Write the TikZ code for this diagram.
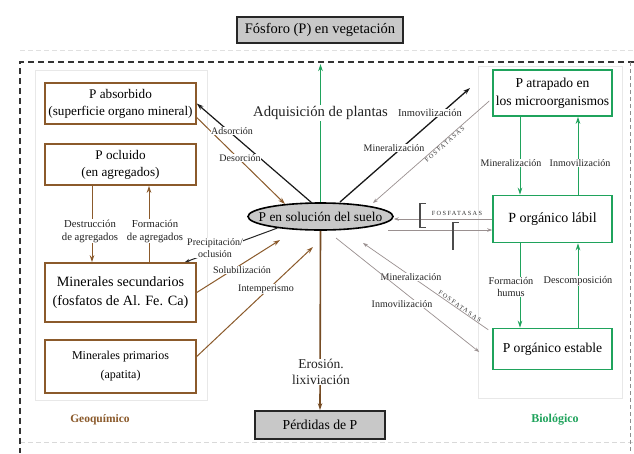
\documentclass[tikz,border=0pt]{standalone}
\usepackage{fontspec}
\setmainfont{Liberation Serif}
\usetikzlibrary{arrows.meta,shapes.geometric,calc}
\definecolor{brn}{HTML}{8B5A2B}
\definecolor{grn}{HTML}{1FA35C}
\definecolor{boxgray}{HTML}{C8C8C8}
\definecolor{thinc}{HTML}{9A9090}
\definecolor{txt}{HTML}{222222}
\newcommand\myfs[2]{\fontsize{#1}{#2}\selectfont}
\begin{document}
\begin{tikzpicture}[x=1pt,y=-1pt,
  geo/.style={draw=brn,line width=1.5pt,fill=white,align=center,minimum width=151pt,inner sep=1pt,text=black},
  bio/.style={draw=grn,line width=1.5pt,fill=white,align=center,minimum width=119pt,inner sep=1pt,text=black},
  gbox/.style={draw=black!85,line width=1.8pt,fill=boxgray,align=center,inner sep=1pt,text=black},
  lbl/.style={font=\myfs{10}{12},text=txt,fill=white,inner sep=0.6pt,align=center},
  tip/.style={-{Stealth[length=7pt,width=4.5pt]}},
  stip/.style={-{Stealth[length=5pt,width=3.5pt]}},
  fos/.style={font={\myfs{6.3}{7}\addfontfeature{LetterSpace=22}},text=black!80,inner sep=0.8pt},
  thinline/.style={draw=thinc,line width=0.7pt},
]
\useasboundingbox (0,0) rectangle (634,453);
\fill[white] (0,0) rectangle (634,453);
% faint panels and frame
\draw[black!9,line width=0.8pt] (35,70) rectangle (207,400);
\draw[black!9,line width=0.8pt] (478,66) rectangle (622,398);
\draw[black!12,line width=1pt,dash pattern=on 5pt off 3pt] (20,50) -- (634,50);
\draw[black!15,line width=1pt,dash pattern=on 5pt off 3pt] (20,442) -- (634,442);
\draw[black!80,line width=1.5pt,dash pattern=on 6pt off 4pt] (634,62) -- (20,62) -- (20,453);
\draw[black!45,line width=0.8pt,dash pattern=on 4pt off 3pt] (630,62) -- (630,453);

% boxes
\node[gbox,minimum width=166pt,minimum height=26pt,font=\myfs{14.5}{16}] (veg) at (320,30) {Fósforo (P) en vegetación};
\node[gbox,minimum width=130pt,minimum height=28pt,font=\myfs{13.7}{15}] (per) at (320,425) {Pérdidas de P};
\node[ellipse,draw=black,line width=1.6pt,fill=boxgray,minimum width=145pt,minimum height=27pt,inner sep=0pt,font=\myfs{13.4}{15}] (sol) at (320.5,216.5) {\makebox[0pt]{P en solución del suelo}};

\node[geo,minimum height=41pt,font=\myfs{13.2}{17}] (abs) at (120.5,103.5) {P absorbido\\(superficie organo mineral)};
\node[geo,minimum height=41pt,font=\myfs{13.2}{17}] (ocl) at (120.5,164.5) {P ocluido\\(en agregados)};
\node[geo,minimum height=59pt,font=\myfs{14.2}{19}] (sec) at (120.5,292.5) {Minerales secundarios\\(fosfatos de Al. Fe. Ca)};
\node[geo,minimum height=53pt,font=\myfs{12}{19}] (pri) at (120.5,366.5) {Minerales primarios\\(apatita)};

\node[bio,minimum height=46pt,font=\myfs{13.6}{18}] (atr) at (552.5,93) {P atrapado en\\los microorganismos};
\node[bio,minimum height=47pt,font=\myfs{14}{15}] (lab) at (552.5,219) {P orgánico lábil};
\node[bio,minimum height=41pt,font=\myfs{13.6}{15}] (est) at (552.5,349) {P orgánico estable};

% central vertical arrows
\coordinate (gt) at (320.5,64);
\draw[grn,line width=1.8pt,tip] (sol.north) -- (gt);
\node[font=\myfs{14.7}{16},fill=white,inner sep=1pt,text=txt] (adq) at (320.5,113) {Adquisición de plantas};
\draw[brn!85!black,line width=1.6pt,tip] (sol.south) -- (per.north);
\node[lbl,font=\myfs{13.5}{16}] (ero) at (321,372) {Erosión.\\lixiviación};

% geochemical side
\coordinate (adsS) at (312,203);
\draw[black!90,line width=1.2pt,tip] (adsS) -- (abs.east);
\coordinate (desE) at (285,204);
\draw[brn,line width=1pt,tip] ($(abs.east)+(0,14)$) -- (desE);
\node[lbl] (lads) at (232,131) {Adsorción};
\node[lbl] (ldes) at (240,158) {Desorción};

\draw[black!85,line width=1pt,stip] (sol.195) -- ($(sec.north east)+(-12,0)$);
\node[lbl] (lpre) at (215,248) {Precipitación/\\oclusión};

\coordinate (solE) at (280,240);
\draw[brn,line width=1pt,tip] (sec.east) -- (solE);
\node[lbl] (lsol) at (242,270) {Solubilización};
\coordinate (intE) at (313,247);
\draw[brn,line width=1pt,tip] ($(pri.east)+(0,-10)$) -- (intE);
\node[lbl] (lint) at (266,289) {Intemperismo};

\draw[brn,line width=1pt,tip] ($(ocl.south)+(-28.5,0)$) -- ($(sec.north)+(-28.5,0)$);
\draw[brn,line width=1pt,tip] ($(sec.north)+(28.5,0)$) -- ($(ocl.south)+(28.5,0)$);
\node[lbl,font=\myfs{10.7}{13}] (ldes2) at (90,231) {Destrucción\\de agregados};
\node[lbl,font=\myfs{10.7}{13}] (lfor2) at (155,231) {Formación\\de agregados};

% biological side
\coordinate (imS) at (340,202);
\coordinate (imE) at (470,88);
\draw[black!90,line width=1.3pt,tip] (imS) -- (imE);
\node[lbl,font=\myfs{10.5}{12}] (limm) at (430,113) {Inmovilización};

\coordinate (minE) at (373,203);
\draw[thinline,stip] ($(atr.west)+(-3,8)$) -- (minE);
\path (minE) -- ($(atr.west)+(-3,8)$) node[fos,sloped,pos=0.6,below] {FOSFATASAS};
\node[lbl] (lmin) at (394,148) {Mineralización};

\draw[thinline,stip] (lab.west) -- (lab.west -| sol.east);
\coordinate (hl) at (388,230);
\draw[thinline,stip] (hl) -- (hl -| lab.west);
\node[fos] (fosh) at (457,213.5) {FOSFATASAS};
\draw[black!70,line width=2.5pt] (420,203) -- (420,228);
\draw[black!70,line width=1pt] (420,203.5) -- (426,203.5) (420,227.5) -- (426,227.5);
\draw[black!70,line width=2.5pt] (453,222) -- (453,250);
\draw[black!70,line width=1pt] (453,222.5) -- (459,222.5);

\coordinate (minE2) at (363,243);
\draw[thinline,stip] ($(est.north west)+(-4,2)$) -- (minE2);
\path (minE2) -- ($(est.north west)+(-4,2)$) node[fos,sloped,pos=0.76,above] {FOSFATASAS};
\node[lbl] (lmin2) at (411,277) {Mineralización};
\coordinate (immS2) at (336,238);
\draw[thinline,stip] (immS2) -- ($(est.west)+(-13,3)$);
\node[lbl] (limm2) at (402,304) {Inmovilización};

\draw[grn,line width=1pt,tip] ($(atr.south)+(-32.5,0)$) -- ($(lab.north)+(-32.5,0)$);
\draw[grn,line width=1pt,tip] ($(lab.north)+(25.5,0)$) -- ($(atr.south)+(25.5,0)$);
\node[lbl] (lminb) at (511,163) {Mineralización};
\node[lbl] (limmb) at (580,163) {Inmovilización};
\draw[grn,line width=1pt,tip] ($(lab.south)+(-32.5,0)$) -- ($(est.north)+(-32.5,0)$);
\draw[grn,line width=1pt,tip] ($(est.north)+(25.5,0)$) -- ($(lab.south)+(25.5,0)$);
\node[lbl,font=\myfs{10.3}{12}] (lfh) at (511,287) {Formación\\humus};
\node[lbl,font=\myfs{10.3}{12}] (ldesc) at (578,281) {Descomposición};

\node[font=\bfseries\myfs{11.5}{14},text=brn] (geoq) at (100,420) {Geoquímico};
\node[font=\bfseries\myfs{12}{14},text=grn] (biol) at (555,420) {Biológico};
\end{tikzpicture}
\end{document}
